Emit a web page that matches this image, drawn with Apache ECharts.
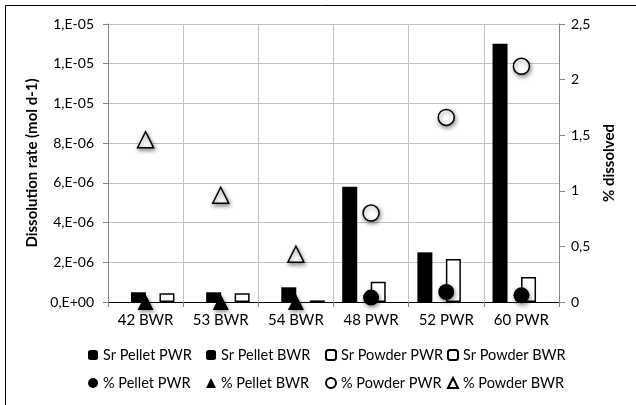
<!DOCTYPE html>
<html>
<head>
<meta charset="utf-8">
<script src="https://cdn.jsdelivr.net/npm/echarts@6/dist/echarts.min.js"></script>
<style>
html,body{margin:0;padding:0;background:#fff;}
#chart{width:636px;height:405px;}
</style>
</head>
<body>
<div id="chart"></div>
<script>
const categories = ['42 BWR', '53 BWR', '54 BWR', '48 PWR', '52 PWR', '60 PWR'];
const srPelletPWR = ['-', '-', '-', 5.8e-6, 2.5e-6, 1.3e-5];
const srPelletBWR = [4.9e-7, 4.9e-7, 7.4e-7, '-', '-', '-'];
const srPowderPWR = ['-', '-', '-', 1.02e-6, 2.17e-6, 1.26e-6];
const srPowderBWR = [4.4e-7, 4.4e-7, 0.8e-7, '-', '-', '-'];
const pctPelletPWR = ['-', '-', '-', 0.04, 0.09, 0.06];
const pctPelletBWR = [0, 0, 0, '-', '-', '-'];
const pctPowderPWR = ['-', '-', '-', 0.80, 1.66, 2.12];
const pctPowderBWR = [1.46, 0.96, 0.43, '-', '-', '-'];
const leftTicks = { min: 0, max: 1.4e-5, interval: 2e-6 };
const rightTicks = { min: 0, max: 2.5, interval: 0.5 };

const FONT = 'Lato';
const AXIS_GREY = '#868686';
const GRID_GREY = '#c0c0c0';

function sci(v) {
  if (v === 0) return '0,E+00';
  let e = Math.floor(Math.log10(v) + 1e-9);
  let m = Math.round(v / Math.pow(10, e));
  if (m >= 10) { m = 1; e++; }
  return m + ',E' + (e < 0 ? '-' : '+') + String(Math.abs(e)).padStart(2, '0');
}

const shadow = { shadowBlur: 4, shadowOffsetY: 2, shadowOffsetX: 1, shadowColor: 'rgba(0,0,0,0.45)' };
const blackBar = { color: '#000' };
const whiteBar = { color: '#fff', borderColor: '#000', borderWidth: 1.5 };
const blackMark = Object.assign({ color: '#000', opacity: 1 }, shadow);
const whiteMark = Object.assign({ color: '#fff', borderColor: '#000', borderWidth: 1.5, opacity: 1 }, shadow);

function bar(name, data, style) {
  return { name, type: 'bar', data, barWidth: 15, barGap: '-5%', itemStyle: style, yAxisIndex: 0 };
}
function mark(name, data, symbol, style) {
  return { name, type: 'scatter', data, symbol, symbolSize: 16, itemStyle: style, yAxisIndex: 1, z: 5 };
}

const legendText = { fontFamily: FONT, fontSize: 14.5, color: '#000', lineHeight: 16 };
function legendCol(left, names) {
  return { orient: 'vertical', left, top: 347, itemWidth: 10, itemHeight: 10, itemGap: 12,
           data: names, textStyle: legendText, selectedMode: false, padding: 0 };
}

const chart = echarts.init(document.getElementById('chart'), null, { renderer: 'canvas' });
chart.setOption({
  animation: false,
  backgroundColor: '#fff',
  textStyle: { fontFamily: FONT },
  graphic: [{
    type: 'rect', shape: { x: 5.5, y: 5.5, width: 800, height: 600 },
    style: { fill: 'none', stroke: '#000', lineWidth: 1 }, silent: true, z: 100
  }],
  grid: { left: 108, right: 77, top: 24, bottom: 103 },
  legend: [
    legendCol(88, ['Sr Pellet PWR', '% Pellet PWR']),
    legendCol(206, ['Sr Pellet BWR', '% Pellet BWR']),
    legendCol(325, ['Sr Powder PWR', '% Powder PWR']),
    legendCol(447, ['Sr Powder BWR', '% Powder BWR'])
  ],
  xAxis: [{
    type: 'category', data: categories,
    axisLine: { lineStyle: { color: AXIS_GREY, width: 1 } },
    axisTick: { show: true, length: 5, lineStyle: { color: AXIS_GREY } },
    splitLine: { show: true, lineStyle: { color: GRID_GREY, width: 1 } },
    axisLabel: { fontFamily: FONT, fontSize: 15, color: '#000', margin: 11 }
  }, {
    type: 'category', data: categories, position: 'top',
    axisLine: { lineStyle: { color: '#000', width: 1 } },
    axisTick: { show: false }, axisLabel: { show: false }, splitLine: { show: false }
  }],
  yAxis: [{
    type: 'value', position: 'left',
    min: leftTicks.min, max: leftTicks.max, interval: leftTicks.interval,
    name: 'Dissolution rate (mol d-1)', nameLocation: 'middle', nameRotate: 90, nameGap: 63,
    nameTextStyle: { fontFamily: FONT, fontSize: 15, fontWeight: 'bold', color: '#000' },
    axisLine: { show: true, lineStyle: { color: AXIS_GREY, width: 1 } },
    axisTick: { show: true, length: 5, lineStyle: { color: AXIS_GREY } },
    splitLine: { show: true, lineStyle: { color: GRID_GREY, width: 1 } },
    axisLabel: { fontFamily: FONT, fontSize: 14, color: '#000', margin: 14, formatter: sci }
  }, {
    type: 'value', position: 'right',
    min: rightTicks.min, max: rightTicks.max, interval: rightTicks.interval,
    name: '% dissolved', nameLocation: 'middle', nameRotate: 90, nameGap: 41,
    nameTextStyle: { fontFamily: FONT, fontSize: 15, fontWeight: 'bold', color: '#000' },
    axisLine: { show: true, lineStyle: { color: AXIS_GREY, width: 1 } },
    axisTick: { show: true, length: 6, lineStyle: { color: AXIS_GREY } },
    splitLine: { show: false },
    axisLabel: { fontFamily: FONT, fontSize: 14, color: '#000', margin: 12,
      formatter: v => String(v).replace('.', ',') }
  }],
  series: [
    bar('Sr Pellet PWR', srPelletPWR, blackBar),
    bar('Sr Pellet BWR', srPelletBWR, blackBar),
    bar('Sr Powder PWR', srPowderPWR, whiteBar),
    bar('Sr Powder BWR', srPowderBWR, whiteBar),
    mark('% Pellet PWR', pctPelletPWR, 'circle', blackMark),
    mark('% Pellet BWR', pctPelletBWR, 'triangle', blackMark),
    mark('% Powder PWR', pctPowderPWR, 'circle', whiteMark),
    mark('% Powder BWR', pctPowderBWR, 'triangle', whiteMark)
  ]
});
</script>
</body>
</html>
